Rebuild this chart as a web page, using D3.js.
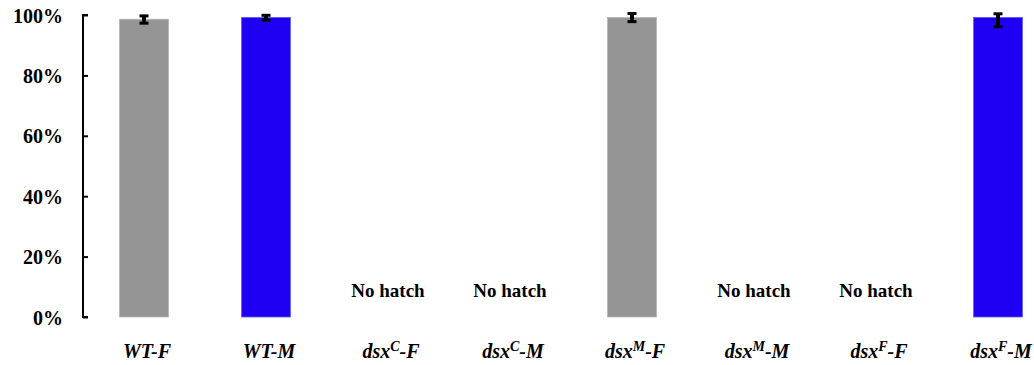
<!DOCTYPE html>
<html>
<head>
<meta charset="utf-8">
<script src="https://cdn.jsdelivr.net/npm/d3@7"></script>
<style>
  body { margin: 0; background: #fff; font-family: "Liberation Serif", serif; }
  svg { display: block; }
</style>
</head>
<body>
<div id="chart"></div>
<script>
// genotype groups, x order
const groups = ["WT", "WT", "dsx", "dsx", "dsx", "dsx", "dsx", "dsx"];
const supers = ["", "", "C", "C", "M", "M", "F", "F"];
const sexes = ["F", "M", "F", "M", "F", "M", "F", "M"];
// hatch rate in percent, null = no hatch
const hatchRate = [98.6, 99.2, null, null, 99.2, null, null, 99.2];
const errUp = [1.1, 0.7, null, null, 1.3, null, null, 1.2];
const errDown = [1.3, 0.9, null, null, 1.4, null, null, 3.1];
const yTicks = [0, 20, 40, 60, 80, 100];

const W = 1034, H = 365;
const plotLeft = 83, plotTop = 15, plotBottom = 317;
const fontFam = "Liberation Serif";
const keys = sexes.map((s, i) => i);

const x = d3.scaleBand().domain(keys).range([plotLeft, plotLeft + 976]).paddingInner(0.6).paddingOuter(0.3);
const y = d3.scaleLinear().domain([0, 100]).range([plotBottom, plotTop]);

const svg = d3.select("#chart").append("svg")
  .attr("width", W).attr("height", H)
  .attr("font-family", fontFam);

const colorFor = i => sexes[i] === "F" ? "#959595" : "#1f00f3";
const edgeFor = i => sexes[i] === "F" ? "#b4b4b4" : "#5a5aff";

// bars
svg.append("g").selectAll("rect")
  .data(keys.filter(i => hatchRate[i] != null))
  .enter().append("rect")
  .attr("x", i => x(i))
  .attr("width", x.bandwidth())
  .attr("y", i => y(hatchRate[i]))
  .attr("height", i => y(0) - y(hatchRate[i]))
  .attr("fill", colorFor)
  .attr("stroke", edgeFor)
  .attr("stroke-width", 0.8);

// error bars
const cx = i => x(i) + x.bandwidth() / 2;
const eb = svg.append("g").selectAll("g")
  .data(keys.filter(i => hatchRate[i] != null))
  .enter().append("g");
eb.append("line")
  .attr("x1", cx).attr("x2", cx)
  .attr("y1", i => y(hatchRate[i] + errUp[i]))
  .attr("y2", i => y(hatchRate[i] - errDown[i]))
  .attr("stroke", "#000").attr("stroke-width", 4);
eb.selectAll(".cap")
  .data(i => [[i, hatchRate[i] + errUp[i]], [i, hatchRate[i] - errDown[i]]])
  .enter().append("line")
  .attr("x1", d => cx(d[0]) - 4.5).attr("x2", d => cx(d[0]) + 4.5)
  .attr("y1", d => y(d[1])).attr("y2", d => y(d[1]))
  .attr("stroke", "#000").attr("stroke-width", 3);

// "No hatch" notes
svg.append("g").selectAll("text")
  .data(keys.filter(i => hatchRate[i] == null))
  .enter().append("text")
  .attr("x", cx)
  .attr("y", 297)
  .attr("text-anchor", "middle")
  .attr("font-family", fontFam)
  .attr("font-size", 19)
  .attr("font-weight", "bold")
  .text("No hatch");

// y axis, ticks pointing inward
const yAxis = svg.append("g")
  .attr("transform", `translate(${plotLeft},0)`)
  .call(d3.axisRight(y).tickValues(yTicks).tickSize(5).tickFormat(d => d + "%"));
yAxis.attr("font-family", fontFam).attr("font-size", 20);
yAxis.select(".domain").attr("stroke-width", 2).attr("d", `M5,${plotTop}H0V${plotBottom}H5`);
yAxis.selectAll(".tick line").attr("stroke-width", 2);
yAxis.selectAll(".tick text")
  .attr("x", -20)
  .attr("dy", "0.35em")
  .attr("text-anchor", "end")
  .attr("font-family", fontFam)
  .attr("font-weight", "bold");

// x labels
const xl = svg.append("g").selectAll("text")
  .data(keys)
  .enter().append("text")
  .attr("x", i => cx(i) + 3)
  .attr("y", 358)
  .attr("text-anchor", "middle")
  .attr("font-family", fontFam)
  .attr("font-size", 20)
  .attr("font-weight", "bold")
  .attr("font-style", "italic");
xl.append("tspan").text(i => groups[i]);
xl.filter(i => supers[i]).append("tspan")
  .attr("font-size", 14).attr("dy", -7).text(i => supers[i]);
xl.append("tspan")
  .attr("dy", i => supers[i] ? 7 : 0)
  .text(i => "-" + sexes[i]);
</script>
</body>
</html>
